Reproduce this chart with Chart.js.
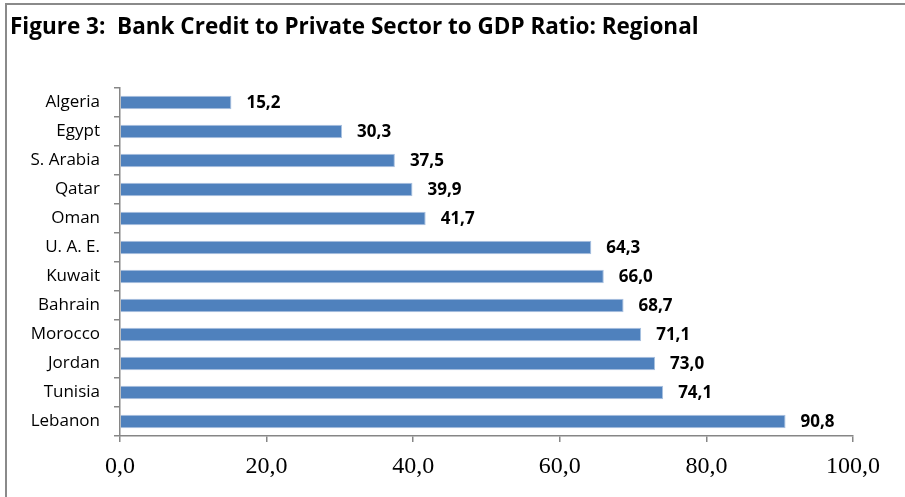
<!DOCTYPE html>
<html>
<head>
<meta charset="utf-8">
<script src="https://cdn.jsdelivr.net/npm/chart.js@4.4.1/dist/chart.umd.min.js"></script>
<style>
  html, body { margin: 0; padding: 0; background: #fff; }
  #frame {
    position: absolute; left: 5px; top: 3px; width: 920px; height: 520px;
    border-left: 2px solid #8a8a8a; border-top: 2px solid #8a8a8a;
  }
  #wrap { position: absolute; left: 0; top: 0; width: 905px; height: 497px; }
</style>
</head>
<body>
<div id="frame"></div>
<div id="wrap"><canvas id="bank_credit"></canvas></div>
<script>
// data
const countries = ['Algeria', 'Egypt', 'S. Arabia', 'Qatar', 'Oman', 'U. A. E.', 'Kuwait', 'Bahrain', 'Morocco', 'Jordan', 'Tunisia', 'Lebanon'];
const ratios = [15.2, 30.3, 37.5, 39.9, 41.7, 64.3, 66.0, 68.7, 71.1, 73.0, 74.1, 90.8];
const xTicks = [0, 20, 40, 60, 80, 100];

const fmt = v => v.toFixed(1).replace('.', ',');

// value labels at the end of the bars
const barLabels = {
  id: 'barLabels',
  afterDatasetsDraw(chart) {
    const c = chart.ctx;
    c.save();
    c.font = 'bold 17px "Open Sans"';
    c.fillStyle = '#000';
    c.textBaseline = 'middle';
    c.textAlign = 'left';
    chart.getDatasetMeta(0).data.forEach((bar, i) => {
      c.fillText(fmt(ratios[i]), bar.x + 15, bar.y + 1);
    });
    c.restore();
  }
};

const ctx = document.getElementById('bank_credit');
new Chart(ctx, {
  type: 'bar',
  data: {
    labels: countries,
    datasets: [{
      data: ratios,
      backgroundColor: '#4f81bd',
      borderColor: '#a9c1e0',
      borderWidth: { top: 1, bottom: 1, right: 1, left: 0 },
      categoryPercentage: 1,
      barPercentage: 0.47
    }]
  },
  plugins: [barLabels],
  options: {
    indexAxis: 'y',
    responsive: true,
    maintainAspectRatio: false,
    animation: false,
    layout: { padding: { left: 10, right: 52, top: 14, bottom: 0 } },
    plugins: {
      legend: { display: false },
      tooltip: { enabled: false },
      title: {
        display: true,
        text: 'Figure 3:  Bank Credit to Private Sector to GDP Ratio: Regional',
        align: 'start',
        color: '#000',
        font: { family: 'Open Sans', size: 22.5, weight: 'bold' },
        padding: { top: 0, bottom: 47 }
      }
    },
    scales: {
      x: {
        min: 0,
        max: 100,
        afterBuildTicks: s => { s.ticks = xTicks.map(v => ({ value: v })); },
        afterFit: s => { s.height = 61; },
        border: { color: '#868686', width: 1.5 },
        grid: { display: true, drawOnChartArea: false, tickLength: 6, color: '#868686', lineWidth: 1.5 },
        ticks: {
          color: '#000',
          padding: 10,
          maxRotation: 0,
          font: { family: 'Liberation Serif', size: 24 },
          callback: v => fmt(v)
        }
      },
      y: {
        afterFit: s => { s.width = 110; },
        border: { color: '#868686', width: 1.5 },
        grid: { display: true, drawOnChartArea: false, offset: true, tickLength: 6, color: '#868686', lineWidth: 1.5 },
        ticks: {
          color: '#000',
          padding: 14,
          font: { family: 'Open Sans', size: 17 }
        }
      }
    }
  }
});
</script>
</body>
</html>
